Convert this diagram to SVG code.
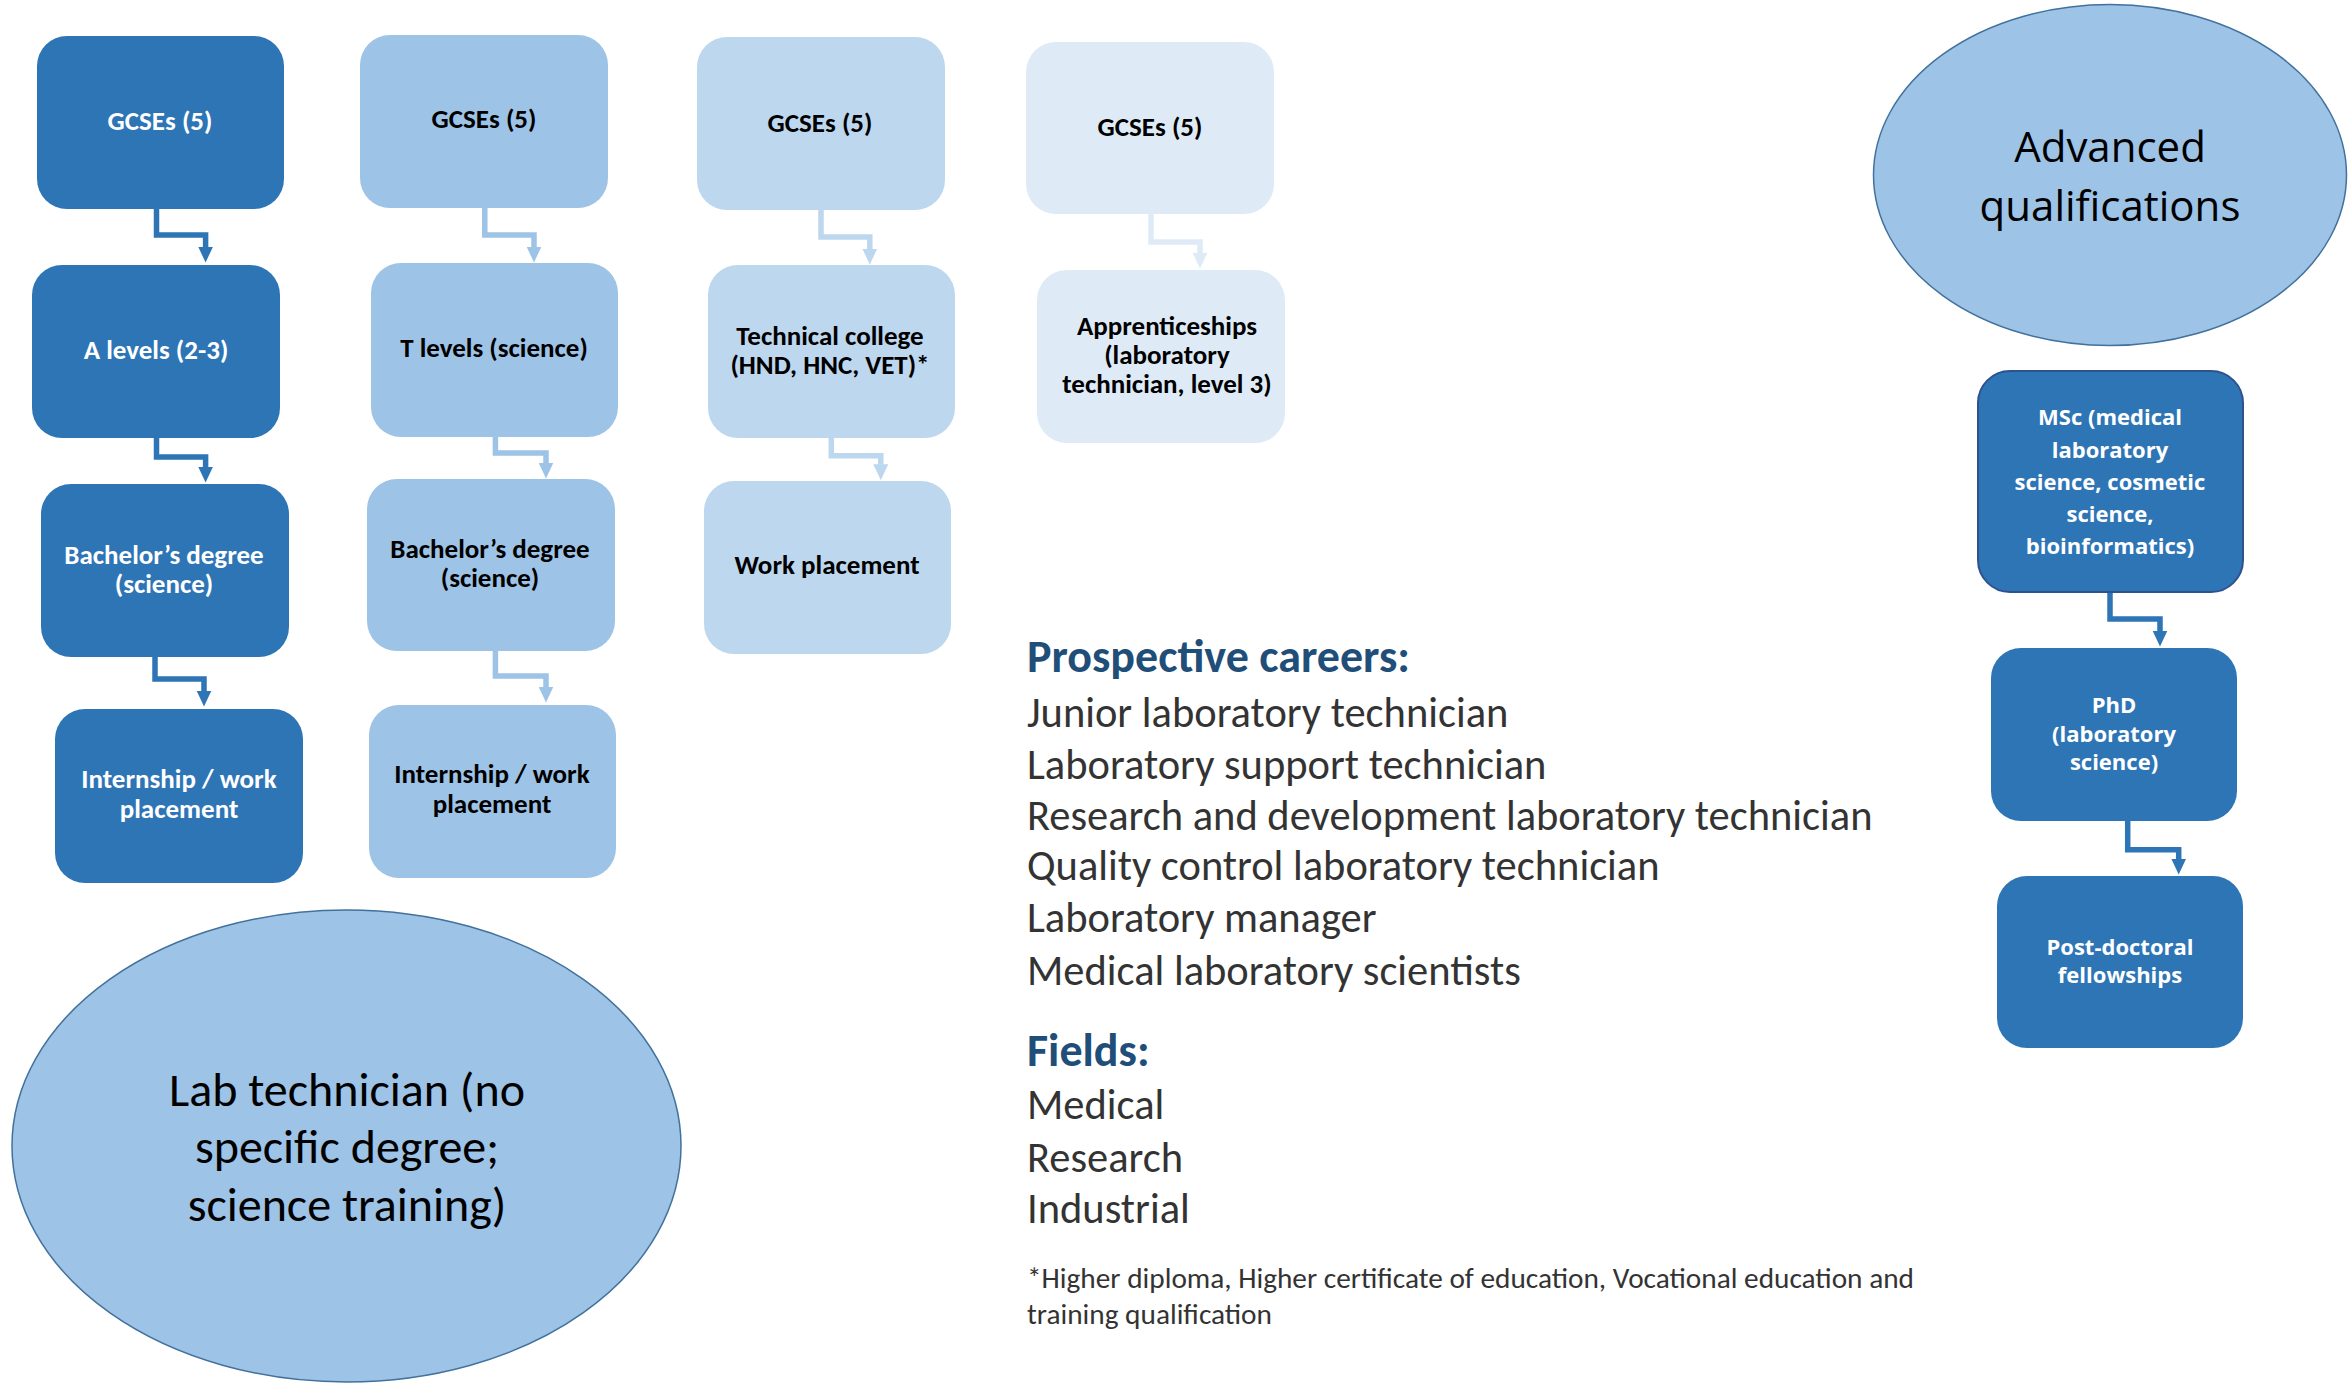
<svg xmlns="http://www.w3.org/2000/svg" width="2351" height="1383" viewBox="0 0 2351 1383">
<style>
.b1{fill:#2E75B6}
.b2{fill:#9DC3E6}
.b3{fill:#BDD7EE}
.b4{fill:#DEEBF7}
.cal{font-family:Carlito,Lato,"Liberation Sans",sans-serif}
.bt{font-family:Carlito,Lato,"Liberation Sans",sans-serif;font-weight:bold;font-size:27px;text-anchor:middle}
.w{fill:#FFFFFF}
.k{fill:#000000}
.os{font-family:"Open Sans","Noto Sans",sans-serif;font-weight:bold;font-size:22px;text-anchor:middle;fill:#FFFFFF}
.c{fill:none;stroke-width:5.5}
.c1{stroke:#2E75B6}
.c2{stroke:#9DC3E6}
.c3{stroke:#BDD7EE}
.c4{stroke:#DEEBF7}
.ell{fill:#9DC3E6;stroke:#41719C;stroke-width:1.5}
.body{font-family:Carlito,Lato,"Liberation Sans",sans-serif;fill:#333333;font-size:42.5px}
.foot{font-family:Carlito,Lato,"Liberation Sans",sans-serif;fill:#333333;font-size:29.3px}
.head{font-family:Carlito,Lato,"Liberation Sans",sans-serif;fill:#1F4E79;font-size:46px;font-weight:bold}
</style>
<defs>
<marker id="m1" markerUnits="userSpaceOnUse" viewBox="0 -8 16 16" refX="0.5" refY="0" markerWidth="16" markerHeight="16" orient="auto"><path d="M0,-7.5 L16,0 L0,7.5 Z" fill="#2E75B6"/></marker>
<marker id="m2" markerUnits="userSpaceOnUse" viewBox="0 -8 16 16" refX="0.5" refY="0" markerWidth="16" markerHeight="16" orient="auto"><path d="M0,-7.5 L16,0 L0,7.5 Z" fill="#9DC3E6"/></marker>
<marker id="m3" markerUnits="userSpaceOnUse" viewBox="0 -8 16 16" refX="0.5" refY="0" markerWidth="16" markerHeight="16" orient="auto"><path d="M0,-7.5 L16,0 L0,7.5 Z" fill="#BDD7EE"/></marker>
<marker id="m4" markerUnits="userSpaceOnUse" viewBox="0 -8 16 16" refX="0.5" refY="0" markerWidth="16" markerHeight="16" orient="auto"><path d="M0,-7.5 L16,0 L0,7.5 Z" fill="#DEEBF7"/></marker>
</defs>
<rect width="2351" height="1383" fill="#FFFFFF"/>

<g id="connectors">
<path class="c c1" marker-end="url(#m1)" d="M156.5,209 V235 H205.6 V247"/>
<path class="c c1" marker-end="url(#m1)" d="M156.5,438 V457 H205.6 V467"/>
<path class="c c1" marker-end="url(#m1)" d="M155,657 V679 H204 V691"/>
<path class="c c2" marker-end="url(#m2)" d="M484.8,208 V235 H534 V247"/>
<path class="c c2" marker-end="url(#m2)" d="M495.4,437 V453 H546 V463"/>
<path class="c c2" marker-end="url(#m2)" d="M495.4,651 V676 H546 V687"/>
<path class="c c3" marker-end="url(#m3)" d="M821,210 V237 H869.8 V249"/>
<path class="c c3" marker-end="url(#m3)" d="M831.3,438 V455.7 H880.8 V464.7"/>
<path class="c c4" marker-end="url(#m4)" d="M1151,214 V242 H1200 V253"/>
<path class="c c1" marker-end="url(#m1)" d="M2110,592 V619 H2160 V631"/>
<path class="c c1" marker-end="url(#m1)" d="M2127.7,821 V849.7 H2178.7 V859"/>
</g>

<g id="gcse1"><rect class="b1" x="37" y="36" width="247" height="173" rx="30"/><text class="bt w" x="160" y="130">GCSEs (5)</text></g>
<g id="alevels"><rect class="b1" x="32" y="265" width="248" height="173" rx="30"/><text class="bt w" x="156" y="359">A levels (2-3)</text></g>
<g id="bachelor1"><rect class="b1" x="41" y="484" width="248" height="173" rx="30"/><text class="bt w" x="164" y="564">Bachelor’s degree</text><text class="bt w" x="164" y="593">(science)</text></g>
<g id="internship1"><rect class="b1" x="55" y="709" width="248" height="174" rx="30"/><text class="bt w" x="179" y="788">Internship / work</text><text class="bt w" x="179" y="818">placement</text></g>

<g id="gcse2"><rect class="b2" x="360" y="35" width="248" height="173" rx="30"/><text class="bt k" x="484" y="128">GCSEs (5)</text></g>
<g id="tlevels"><rect class="b2" x="371" y="263" width="247" height="174" rx="30"/><text class="bt k" x="494" y="357">T levels (science)</text></g>
<g id="bachelor2"><rect class="b2" x="367" y="479" width="248" height="172" rx="30"/><text class="bt k" x="490" y="558">Bachelor’s degree</text><text class="bt k" x="490" y="587">(science)</text></g>
<g id="internship2"><rect class="b2" x="369" y="705" width="247" height="173" rx="30"/><text class="bt k" x="492" y="783">Internship / work</text><text class="bt k" x="492" y="813">placement</text></g>

<g id="gcse3"><rect class="b3" x="697" y="37" width="248" height="173" rx="30"/><text class="bt k" x="820" y="132">GCSEs (5)</text></g>
<g id="techcollege"><rect class="b3" x="708" y="265" width="247" height="173" rx="30"/><text class="bt k" x="830" y="345">Technical college</text><text class="bt k" x="830" y="374">(HND, HNC, VET)*</text></g>
<g id="workplacement"><rect class="b3" x="704" y="481" width="247" height="173" rx="30"/><text class="bt k" x="827" y="574">Work placement</text></g>

<g id="gcse4"><rect class="b4" x="1026" y="42" width="248" height="172" rx="30"/><text class="bt k" x="1150" y="136">GCSEs (5)</text></g>
<g id="apprenticeships"><rect class="b4" x="1037" y="270" width="248" height="173" rx="30"/><text class="bt k" x="1167" y="335">Apprenticeships</text><text class="bt k" x="1167" y="364">(laboratory</text><text class="bt k" x="1167" y="393">technician, level 3)</text></g>

<g id="advanced"><ellipse class="ell" cx="2110" cy="175" rx="236.5" ry="170.5"/><text font-family="'Open Sans','Noto Sans',sans-serif" font-size="42" text-anchor="middle" fill="#000000"><tspan x="2110" y="162">Advanced</tspan><tspan x="2110" y="221">qualifications</tspan></text></g>
<g id="msc"><rect x="1978" y="371" width="265" height="221" rx="32" fill="#2E75B6" stroke="#2F528F" stroke-width="2"/><text class="os"><tspan x="2110" y="425">MSc (medical</tspan><tspan x="2110" y="458">laboratory</tspan><tspan x="2110" y="490">science, cosmetic</tspan><tspan x="2110" y="522">science,</tspan><tspan x="2110" y="554">bioinformatics)</tspan></text></g>
<g id="phd"><rect class="b1" x="1991" y="648" width="246" height="173" rx="30"/><text class="os"><tspan x="2114" y="713">PhD</tspan><tspan x="2114" y="742">(laboratory</tspan><tspan x="2114" y="770">science)</tspan></text></g>
<g id="postdoc"><rect class="b1" x="1997" y="876" width="246" height="172" rx="30"/><text class="os"><tspan x="2120" y="955">Post-doctoral</tspan><tspan x="2120" y="983">fellowships</tspan></text></g>

<g id="labtech"><ellipse class="ell" cx="346.5" cy="1146" rx="334.5" ry="236"/><text class="cal" font-size="48" text-anchor="middle" fill="#000000"><tspan x="347" y="1106">Lab technician (no</tspan><tspan x="347" y="1163">specific degree;</tspan><tspan x="347" y="1221">science training)</tspan></text></g>

<g id="careers">
<text class="head" x="1027" y="672">Prospective careers:</text>
<text class="body" x="1027" y="727">Junior laboratory technician</text>
<text class="body" x="1027" y="779">Laboratory support technician</text>
<text class="body" x="1027" y="830">Research and development laboratory technician</text>
<text class="body" x="1027" y="880">Quality control laboratory technician</text>
<text class="body" x="1027" y="932">Laboratory manager</text>
<text class="body" x="1027" y="985">Medical laboratory scientists</text>
<text class="head" x="1027" y="1066">Fields:</text>
<text class="body" x="1027" y="1119">Medical</text>
<text class="body" x="1027" y="1172">Research</text>
<text class="body" x="1027" y="1223">Industrial</text>
<text class="foot" x="1027" y="1288">*Higher diploma, Higher certificate of education, Vocational education and</text>
<text class="foot" x="1027" y="1324">training qualification</text>
</g>
</svg>
